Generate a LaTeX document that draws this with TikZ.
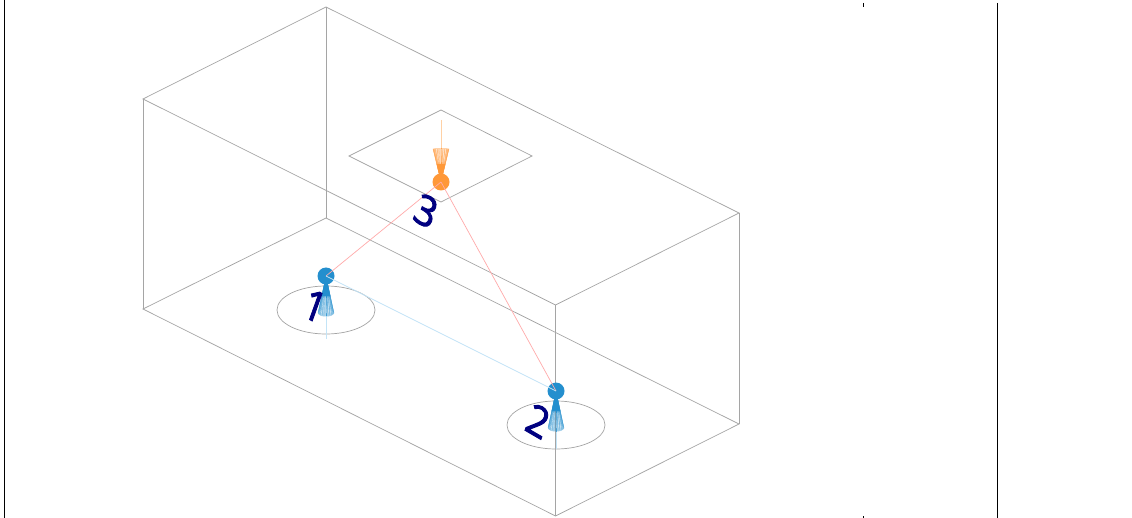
\documentclass[tikz,border=0pt]{standalone}
\usepackage{fontspec}
\usetikzlibrary{shapes.geometric}
\setmainfont[FakeBold=2.2]{Open Sans}
\definecolor{edgegrey}{RGB}{165,165,165}
\definecolor{camblue}{RGB}{36,143,206}
\definecolor{camorange}{RGB}{255,152,56}
\definecolor{linkred}{RGB}{255,170,170}
\definecolor{linkblue}{RGB}{195,228,247}
\definecolor{digitnavy}{RGB}{0,0,128}
\tikzset{
  boxedge/.style={draw=edgegrey,line width=0.7pt},
  ringshape/.style={draw=edgegrey,line width=0.7pt,ellipse,minimum width=98pt,minimum height=48pt,inner sep=0pt},
  rule/.style={draw=black,line width=0.9pt},
  dot/.style={circle,inner sep=0pt,minimum size=17pt},
  isodigit/.style={text=digitnavy,font=\fontsize{33}{33}\selectfont,inner sep=0pt,transform shape,cm={1.03,-0.6,0.42,1.17,(0,0)}},
}
\newcommand{\conemesh}[6]{% apex x, apex y, base y, rx, ry, colour
  \fill[#6,opacity=0.38] (#1-#4,#3) -- (#1,#2) -- (#1+#4,#3) arc [start angle=0,end angle=180,x radius=#4,y radius=#5] -- cycle;
  \fill[#6] ({#1-0.55*#4},{0.45*#2+0.55*#3}) -- (#1,#2) -- ({#1+0.55*#4},{0.45*#2+0.55*#3}) -- cycle;
  \foreach \a in {0,15,...,345}{
    \draw[#6,line width=0.25pt,opacity=0.7] (#1,#2) -- ({#1+#4*cos(\a)},{#3+#5*sin(\a)});
  }
  \foreach \b in {-0.55,-0.25,0.05,0.35,0.6}{
    \draw[white,line width=0.35pt,opacity=0.6] ({#1+0.6*\b*#4},{0.4*#2+0.6*#3}) -- ({#1+\b*#4},{#3});
  }
}
\begin{document}
\begin{tikzpicture}[x=1pt,y=-1pt]
\useasboundingbox (0,0) rectangle (1132,518);
\fill[white] (0,0) rectangle (1132,518);
% frame rules
\coordinate (la) at (4.5,0); \coordinate (lb) at (4.5,518);
\coordinate (ra) at (997.5,3); \coordinate (rb) at (997.5,518);
\coordinate (ta) at (863.5,3); \coordinate (tb) at (863.5,7);
\coordinate (ua) at (863.5,516); \coordinate (ub) at (863.5,518);
\draw[rule] (la)--(lb); \draw[rule] (ra)--(rb);
\draw[rule] (ta)--(tb); \draw[rule] (ua)--(ub);
% box
\coordinate (t1) at (326,7); \coordinate (t2) at (143,99);
\coordinate (t3) at (555.5,305); \coordinate (t4) at (739,213);
\coordinate (b1) at (326,218); \coordinate (b2) at (143,309);
\coordinate (b3) at (555.5,516); \coordinate (b4) at (739,424);
\draw[boxedge] (t1)--(t2)--(t3)--(t4)--cycle;
\draw[boxedge] (b1)--(b2)--(b3)--(b4)--cycle;
\draw[boxedge] (t1)--(b1) (t2)--(b2) (t3)--(b3) (t4)--(b4);
% ceiling square
\coordinate (s1) at (441,110); \coordinate (s2) at (349,156);
\coordinate (s3) at (441,202); \coordinate (s4) at (532,156);
\draw[boxedge] (s1)--(s2)--(s3)--(s4)--cycle;
% floor rings
\node[ringshape] (r1) at (326,310) {};
\node[ringshape] (r2) at (556,425) {};
% stems
\coordinate (f1) at (326,339); \coordinate (f2) at (556,449);
\coordinate (g1) at (326,314); \coordinate (g2) at (556,429);
\draw[linkblue,line width=0.8pt] (g1)--(f1);
\draw[linkblue,line width=0.8pt] (g2)--(f2);
\coordinate (o1) at (441,120); \coordinate (o2) at (441,150);
\draw[camorange!45,line width=0.8pt] (o1)--(o2);
% cones
\conemesh{326}{276}{313}{8}{3.5}{camblue}
\conemesh{556}{391}{428}{8}{3.5}{camblue}
\conemesh{441}{182}{149}{8}{-1}{camorange}
% markers
\node[dot,fill=camblue] (c1) at (326,276) {};
\node[dot,fill=camblue] (c2) at (556,391) {};
\node[dot,fill=camorange] (c3) at (441,182) {};
% links
\draw[linkred,line width=0.7pt] (c1.center)--(c3.center);
\draw[linkred,line width=0.7pt] (c3.center)--(c2.center);
\draw[linkblue,line width=0.7pt] (c1.center)--(c2.center);
% digits
\node[isodigit] (n1) at (315,306) {1};
\node[isodigit] (n2) at (538,421) {2};
\node[isodigit] (n3) at (426,211) {3};
\end{tikzpicture}
\end{document}
